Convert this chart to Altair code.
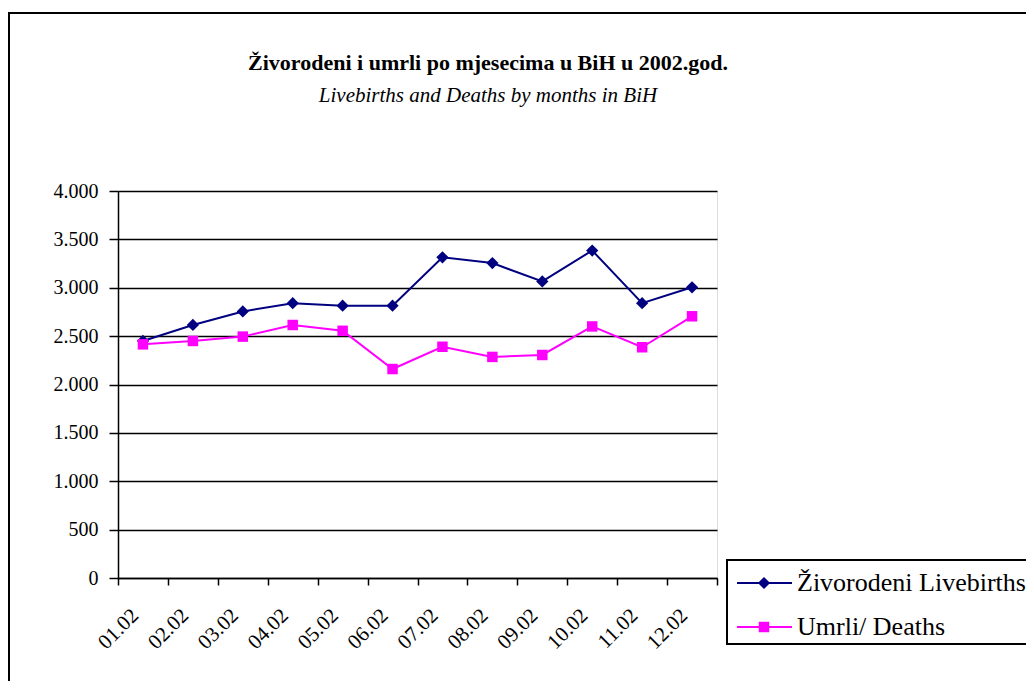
import altair as alt
import pandas as pd

months = ["01.02", "02.02", "03.02", "04.02", "05.02", "06.02",
          "07.02", "08.02", "09.02", "10.02", "11.02", "12.02"]
livebirths = [2450, 2615, 2755, 2840, 2815, 2815, 3315, 3255, 3065, 3385, 2840, 3005]
deaths = [2415, 2450, 2495, 2615, 2555, 2160, 2390, 2285, 2305, 2600, 2385, 2705]

series_names = ["Živorodeni Livebirths", "Umrli/ Deaths"]
series_colors = ["#000080", "#FF00FF"]
series_shapes = ["diamond", "square"]

title_text = "Živorodeni i umrli po mjesecima u BiH u 2002.god."
subtitle_text = "Livebirths and Deaths by months in BiH"

FONT = "Liberation Serif"

rows = []
for m, v in zip(months, livebirths):
    rows.append({"month": m, "value": v, "series": series_names[0]})
for m, v in zip(months, deaths):
    rows.append({"month": m, "value": v, "series": series_names[1]})
df = pd.DataFrame(rows)

W, H = 599, 387

x_enc = alt.X("month:O", sort=months,
              scale=alt.Scale(type="band", paddingInner=0, paddingOuter=0),
              axis=alt.Axis(title=None, labelAngle=-45, labelAlign="right",
                            labelBaseline="middle", labelPadding=27, labelOffset=-8,
                            tickBand="extent", tickSize=7, tickColor="black",
                            tickWidth=1.5, domainColor="black", domainWidth=1.5,
                            labelFont=FONT, labelFontSize=21, labelColor="black",
                            grid=False))
y_enc = alt.Y("value:Q",
              scale=alt.Scale(domain=[0, 4000], nice=False),
              axis=alt.Axis(title=None, values=list(range(0, 4001, 500)),
                            labelExpr="replace(format(datum.value, ',d'), ',', '.')",
                            tickSize=9, tickColor="black", tickWidth=1.5,
                            domainColor="black", domainWidth=1.5,
                            grid=True, gridColor="black", gridWidth=1.5,
                            labelFont=FONT, labelFontSize=20, labelColor="black",
                            labelPadding=11))

color_enc = alt.Color("series:N", scale=alt.Scale(domain=series_names, range=series_colors), legend=None)
shape_enc = alt.Shape("series:N", scale=alt.Scale(domain=series_names, range=series_shapes), legend=None)
size_enc = alt.Size("series:N", scale=alt.Scale(domain=series_names, range=[150, 110]), legend=None)

base = alt.Chart(df)
lines = base.mark_line(strokeWidth=2).encode(x=x_enc, y=y_enc, color=color_enc, detail="series:N")
points = base.mark_point(filled=True, opacity=1).encode(
    x=x_enc, y=y_enc, color=color_enc, shape=shape_enc, size=size_enc)

one = pd.DataFrame({"a": [0]})

border = alt.Chart(one).mark_rect(fill=None, stroke="black", strokeWidth=2).encode(
    x=alt.value(-109), x2=alt.value(1000), y=alt.value(-178), y2=alt.value(700))

title = alt.Chart(pd.DataFrame({"t": [title_text]})).mark_text(
    font=FONT, fontSize=22, fontWeight="bold", align="center", baseline="middle", color="black"
).encode(text="t:N", x=alt.value(370), y=alt.value(-128))
subtitle = alt.Chart(pd.DataFrame({"t": [subtitle_text]})).mark_text(
    font=FONT, fontSize=21, fontStyle="italic", align="center", baseline="middle", color="black"
).encode(text="t:N", x=alt.value(370), y=alt.value(-95))

legend_box = alt.Chart(one).mark_rect(fill="white", stroke="black", strokeWidth=2).encode(
    x=alt.value(609), x2=alt.value(1000), y=alt.value(369), y2=alt.value(453))

leg_y = [392, 436]
leg_sizes = [150, 110]
legend_layers = [legend_box]
for i in range(2):
    legend_layers.append(alt.Chart(one).mark_rule(color=series_colors[i], strokeWidth=2).encode(
        x=alt.value(619), x2=alt.value(674), y=alt.value(leg_y[i])))
    legend_layers.append(alt.Chart(one).mark_point(filled=True, size=leg_sizes[i], opacity=1,
                                                   shape=series_shapes[i], color=series_colors[i]).encode(
        x=alt.value(646), y=alt.value(leg_y[i])))
    legend_layers.append(alt.Chart(pd.DataFrame({"t": [series_names[i]]})).mark_text(
        font=FONT, fontSize=26, align="left", baseline="middle", color="black").encode(
        text="t:N", x=alt.value(679), y=alt.value(leg_y[i])))

chart = alt.layer(border, title, subtitle, lines, points, *legend_layers).properties(
    width=W, height=H,
    autosize=alt.AutoSizeParams(type="none"),
    padding={"left": 110, "top": 183, "right": 309, "bottom": 103},
).configure_view(stroke=None).configure(background="white").configure_axis(
    labelFont=FONT)

chart.save("out.html", embed_options={"renderer": "svg", "actions": False})
